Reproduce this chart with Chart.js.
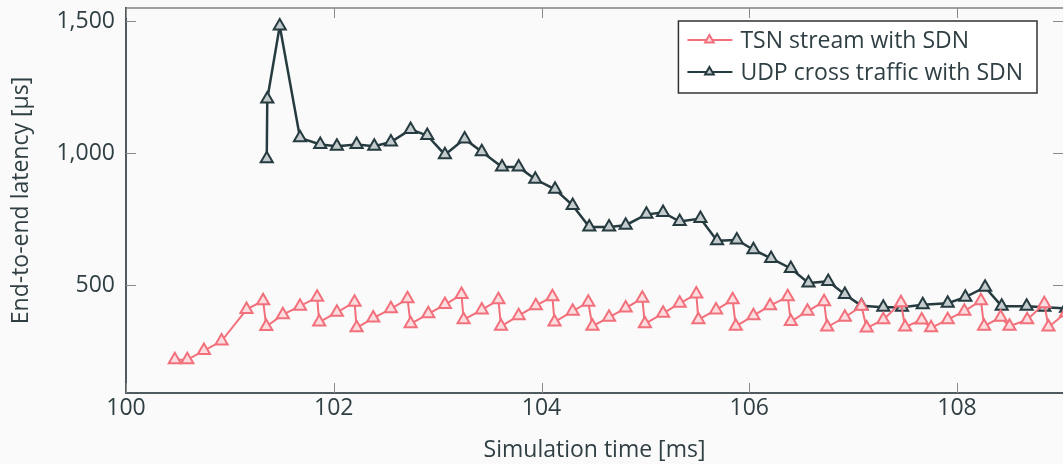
<!DOCTYPE html>
<html>
<head>
<meta charset="utf-8">
<script src="https://cdn.jsdelivr.net/npm/chart.js@4.4.1/dist/chart.umd.min.js"></script>
<style>
  html, body { margin: 0; padding: 0; background: #fafafa; overflow: hidden; }
  #wrap { width: 1063px; height: 464px; position: relative; }
</style>
</head>
<body>
<div id="wrap"><canvas id="latencyChart"></canvas></div>
<script>
// Simulation time [ms] and end-to-end latency [us]
const tsnTime = [100.47, 100.59, 100.75, 100.92, 101.16, 101.32, 101.35, 101.51, 101.675, 101.84,
    101.86, 102.03, 102.20, 102.22, 102.38, 102.55, 102.71, 102.74, 102.91, 103.07,
    103.23, 103.25, 103.425, 103.585, 103.61, 103.78, 103.945, 104.105, 104.125, 104.30,
    104.45, 104.49, 104.65, 104.81, 104.97, 104.995, 105.17, 105.33, 105.49, 105.51,
    105.68, 105.84, 105.87, 106.04, 106.20, 106.37, 106.40, 106.56, 106.72, 106.75,
    106.92, 107.08, 107.13, 107.29, 107.46, 107.50, 107.66, 107.75, 107.91, 108.07,
    108.23, 108.26, 108.42, 108.505, 108.675, 108.84, 108.88, 109.05];
const tsnLatency = [217, 217, 252, 288, 407, 441, 343, 388, 420, 454,
    360, 397, 435, 338, 375, 410, 448, 353, 391, 426,
    464, 369, 406, 444, 344, 384, 422, 456, 360, 401,
    435, 344, 378, 413, 450, 353, 393, 431, 466, 369,
    406, 444, 344, 384, 422, 456, 362, 401, 437, 341,
    378, 420, 337, 369, 433, 341, 368, 338, 369, 401,
    441, 344, 378, 344, 369, 429, 341, 395];

const udpTime = [101.355, 101.36, 101.48, 101.675, 101.87, 102.03, 102.22, 102.39, 102.55, 102.74,
    102.90, 103.07, 103.26, 103.425, 103.62, 103.78, 103.94, 104.13, 104.30, 104.46,
    104.65, 104.81, 105.01, 105.17, 105.33, 105.53, 105.69, 105.88, 106.04, 106.21,
    106.40, 106.57, 106.76, 106.92, 107.08, 107.29, 107.47, 107.67, 107.91, 108.08,
    108.27, 108.43, 108.67, 108.84, 109.05];
const udpLatency = [979, 1205, 1482, 1058, 1033, 1026, 1033, 1026, 1042, 1090,
    1067, 994, 1054, 1005, 947, 947, 901, 863, 802, 720,
    720, 727, 768, 775, 741, 752, 668, 671, 634, 601,
    563, 508, 514, 464, 422, 416, 416, 425, 431, 454,
    492, 420, 420, 416, 412];

const seriesLabels = ['TSN stream with SDN', 'UDP cross traffic with SDN'];
const xTicks = [100, 102, 104, 106, 108];
const yTicks = [500, 1000, 1500];

const TEXT = '#2f3f44';
const FONT = { family: "'Open Sans', 'DejaVu Sans', sans-serif", size: 23 };
const TSN_COLOR = '#f2707b';
const UDP_COLOR = '#263b40';

const toPoints = (xs, ys) => xs.map((x, i) => ({ x, y: ys[i] }));

// pgfplots-style box: ticks pointing inwards, lighter top border
const boxPlugin = {
    id: 'box',
    beforeDatasetsDraw(chart) {
        const { ctx, chartArea: a, scales: { x, y } } = chart;
        ctx.save();
        ctx.strokeStyle = '#808080';
        ctx.lineWidth = 1.5;
        ctx.beginPath();
        ctx.moveTo(a.left, a.top);
        ctx.lineTo(a.right, a.top);
        ctx.stroke();
        ctx.lineWidth = 1;
        ctx.strokeStyle = '#8a8a8a';
        ctx.beginPath();
        xTicks.forEach(v => {
            const px = Math.round(x.getPixelForValue(v)) + 0.5;
            ctx.moveTo(px, a.bottom); ctx.lineTo(px, a.bottom - 10);
            ctx.moveTo(px, a.top); ctx.lineTo(px, a.top + 10);
        });
        yTicks.forEach(v => {
            const py = Math.round(y.getPixelForValue(v)) + 0.5;
            ctx.moveTo(a.left, py); ctx.lineTo(a.left + 10, py);
            ctx.moveTo(a.right, py); ctx.lineTo(a.right - 10, py);
        });
        ctx.stroke();
        ctx.restore();
    },
    afterDraw(chart) {
        const { ctx, chartArea: a } = chart;
        ctx.save();
        ctx.font = `${FONT.size}px ${FONT.family}`;
        const textW = Math.max(...seriesLabels.map(t => ctx.measureText(t).width));
        const w = 62 + textW + 14;
        const h = 72;
        const right = a.right - 26;
        const left = right - w;
        const top = a.top + 13;
        ctx.fillStyle = '#ffffff';
        ctx.fillRect(left, top, w, h);
        ctx.strokeStyle = '#333333';
        ctx.lineWidth = 1.5;
        ctx.strokeRect(left, top, w, h);
        chart.data.datasets.forEach((ds, i) => {
            const cy = top + 19 + i * 32;
            ctx.strokeStyle = ds.borderColor;
            ctx.lineWidth = 2;
            ctx.beginPath();
            ctx.moveTo(left + 9, cy);
            ctx.lineTo(left + 54, cy);
            ctx.stroke();
            ctx.fillStyle = ds.pointBackgroundColor;
            Chart.helpers.drawPoint(ctx, {
                pointStyle: 'triangle', radius: 5, rotation: 0, borderWidth: 2
            }, left + 31, cy);
            ctx.fillStyle = TEXT;
            ctx.textBaseline = 'middle';
            ctx.textAlign = 'left';
            ctx.fillText(seriesLabels[i], left + 62, cy + 1);
        });
        ctx.restore();
    }
};

new Chart(document.getElementById('latencyChart'), {
    type: 'line',
    data: {
        datasets: [
            {
                label: seriesLabels[0],
                data: toPoints(tsnTime, tsnLatency),
                borderColor: TSN_COLOR,
                backgroundColor: TSN_COLOR,
                pointBackgroundColor: '#fbdde0',
                pointBorderColor: TSN_COLOR,
                pointStyle: 'triangle',
                pointRadius: 7,
                pointBorderWidth: 2,
                borderWidth: 2,
                tension: 0,
            },
            {
                label: seriesLabels[1],
                data: toPoints(udpTime, udpLatency),
                borderColor: UDP_COLOR,
                backgroundColor: UDP_COLOR,
                pointBackgroundColor: '#c3cbcd',
                pointBorderColor: UDP_COLOR,
                pointStyle: 'triangle',
                pointRadius: 7,
                pointBorderWidth: 2,
                borderWidth: 2.5,
                tension: 0,
            },
        ],
    },
    options: {
        responsive: true,
        maintainAspectRatio: false,
        animation: false,
        layout: { autoPadding: false, padding: { top: 8, right: 0, bottom: 0, left: 0 } },
        plugins: {
            legend: { display: false },
            tooltip: { enabled: false },
        },
        scales: {
            x: {
                type: 'linear',
                min: 100,
                max: 109.02,
                afterBuildTicks: s => { s.ticks = xTicks.map(value => ({ value })); },
                afterFit: s => { s.height = 71; s.paddingLeft = 0; s.paddingRight = 0; },
                grid: { display: false, drawTicks: false },
                border: { display: true, color: '#4f5b5f', width: 2 },
                ticks: { color: TEXT, font: FONT, padding: 2, maxRotation: 0, callback: v => String(v) },
                title: {
                    display: true,
                    text: 'Simulation time [ms]',
                    color: TEXT,
                    font: FONT,
                    padding: { top: 0, bottom: 0 },
                },
            },
            y: {
                type: 'linear',
                min: 91,
                max: 1550,
                afterBuildTicks: s => { s.ticks = yTicks.map(value => ({ value })); },
                afterFit: s => { s.width = 126; s.paddingTop = 0; s.paddingBottom = 0; },
                grid: { display: false, drawTicks: false },
                border: { display: true, color: '#4f5b5f', width: 2 },
                ticks: { color: TEXT, font: FONT, padding: 11, callback: v => v.toLocaleString('en-US') },
                title: {
                    display: true,
                    text: 'End-to-end latency [μs]',
                    color: TEXT,
                    font: FONT,
                    padding: { top: 8, bottom: 0 },
                },
            },
        },
    },
    plugins: [boxPlugin],
});
</script>
</body>
</html>
